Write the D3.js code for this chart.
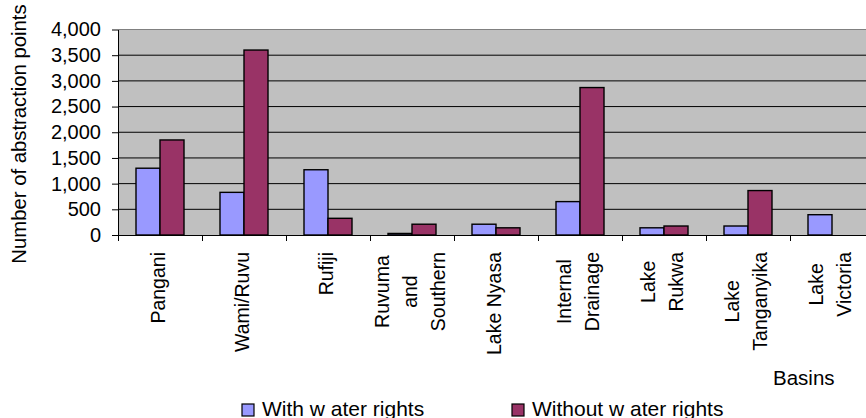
<!DOCTYPE html>
<html lang="en">
<head>
    <meta charset="UTF-8">
    <title>Abstraction points by basin</title>
    <script src="https://d3js.org/d3.v7.min.js"></script>
    <style>
        body { margin: 0; background: #fff; }
        svg text { font-family: "Liberation Sans", Arial, sans-serif; fill: #000; }
    </style>
</head>
<body>
    <div id="chart"></div>

    <script>
        // basins and the two series
        const categories = ["Pangani", "Wami/Ruvu", "Rufiji", "Ruvuma and Southern", "Lake Nyasa",
            "Internal Drainage", "Lake Rukwa", "Lake Tanganyika", "Lake Victoria"];
        const categoryLines = [["Pangani"], ["Wami/Ruvu"], ["Rufiji"], ["Ruvuma", "and", "Southern"], ["Lake Nyasa"],
            ["Internal", "Drainage"], ["Lake", "Rukwa"], ["Lake", "Tanganyika"], ["Lake", "Victoria"]];
        const withRights = [1300, 830, 1270, 30, 210, 650, 140, 175, 395];
        const withoutRights = [1850, 3600, 325, 210, 140, 2870, 175, 865, 0];
        const seriesNames = ["With w ater rights", "Without w ater rights"];
        const yTicks = [0, 500, 1000, 1500, 2000, 2500, 3000, 3500, 4000];

        const width = 866;
        const height = 418;
        const plot = { left: 118, top: 29.5, right: 874, bottom: 235 };
        const colors = ["#9999ff", "#993366"];

        const svg = d3.select("#chart").append("svg")
            .attr("width", width)
            .attr("height", height);

        // plot background
        svg.append("rect")
            .attr("x", plot.left)
            .attr("y", plot.top)
            .attr("width", plot.right - plot.left)
            .attr("height", plot.bottom - plot.top)
            .attr("fill", "#c0c0c0");

        const y = d3.scaleLinear()
            .domain([0, 4000])
            .range([plot.bottom, plot.top]);

        const x0 = d3.scaleBand()
            .domain(categories)
            .range([plot.left, plot.right]);

        const x1 = d3.scaleBand()
            .domain([0, 1])
            .range([18, 66]);

        // gridlines
        svg.append("g")
            .selectAll("line")
            .data(yTicks.filter(d => d > 0))
            .enter().append("line")
            .attr("x1", plot.left)
            .attr("x2", plot.right)
            .attr("y1", d => y(d))
            .attr("y2", d => y(d))
            .attr("stroke", d => d === 4000 ? "#808080" : "#000")
            .attr("stroke-width", 1);

        // bars
        const rows = categories.map((c, i) => ({ c, vals: [withRights[i], withoutRights[i]] }));
        const groups = svg.append("g")
            .selectAll("g")
            .data(rows)
            .enter().append("g")
            .attr("transform", d => "translate(" + x0(d.c) + ",0)");

        groups.selectAll("rect")
            .data(d => d.vals.map((v, k) => ({ v, k })).filter(e => e.v > 0))
            .enter().append("rect")
            .attr("x", d => x1(d.k))
            .attr("width", x1.bandwidth())
            .attr("y", d => y(d.v))
            .attr("height", d => y(0) - y(d.v))
            .attr("fill", d => colors[d.k])
            .attr("stroke", "#000")
            .attr("stroke-width", 1.4);

        // y axis
        const yAxis = svg.append("g")
            .attr("transform", "translate(" + plot.left + ",0)")
            .call(d3.axisLeft(y).tickValues(yTicks).tickFormat(d3.format(","))
                .tickSizeInner(6).tickSizeOuter(0).tickPadding(11));
        yAxis.select(".domain").attr("stroke", "#000");
        yAxis.selectAll(".tick line").attr("stroke", "#000");
        yAxis.selectAll("text").style("font-size", "20px").attr("fill", "#000");

        // x axis ticks at band edges
        const xe = d3.scaleLinear().domain([0, categories.length]).range([plot.left, plot.right]);
        const xAxis = svg.append("g")
            .attr("transform", "translate(0," + plot.bottom + ")")
            .call(d3.axisBottom(xe).tickValues(d3.range(categories.length + 1)).tickFormat("")
                .tickSizeInner(6).tickSizeOuter(0));
        xAxis.select(".domain").attr("stroke", "#000");
        xAxis.selectAll(".tick line").attr("stroke", "#000");

        // category labels, rotated, lines centred within each block
        const lineGap = 28;
        const labels = svg.append("g")
            .selectAll("g")
            .data(categories)
            .enter().append("g")
            .attr("transform", d => "translate(" + (x0(d) + x0.bandwidth() / 2) + ",252) rotate(-90)");

        labels.each(function (d, i) {
            const g = d3.select(this);
            const lines = categoryLines[i];
            const n = lines.length;
            const texts = lines.map((t, k) => g.append("text")
                .attr("text-anchor", "middle")
                .attr("y", (k - (n - 1) / 2) * lineGap + 5)
                .style("font-size", "19.5px")
                .text(t));
            const maxLen = d3.max(texts, t => t.node().getComputedTextLength());
            texts.forEach(t => t.attr("x", -maxLen / 2));
        });

        // axis titles
        svg.append("text")
            .attr("transform", "translate(26,134) rotate(-90)")
            .attr("text-anchor", "middle")
            .style("font-size", "20.3px")
            .text("Number of abstraction points");

        svg.append("text")
            .attr("x", 773)
            .attr("y", 385)
            .style("font-size", "20.5px")
            .text("Basins");

        // legend
        const legendX = [242, 512];
        const legend = svg.append("g")
            .selectAll("g")
            .data(seriesNames)
            .enter().append("g")
            .attr("transform", (d, i) => "translate(" + legendX[i] + ",404)");

        legend.append("rect")
            .attr("width", 12)
            .attr("height", 12)
            .attr("fill", (d, i) => colors[i])
            .attr("stroke", "#000")
            .attr("stroke-width", 1.2);

        legend.append("text")
            .attr("x", 20)
            .attr("y", 11.5)
            .style("font-size", "21px")
            .text(d => d);
    </script>
</body>
</html>
